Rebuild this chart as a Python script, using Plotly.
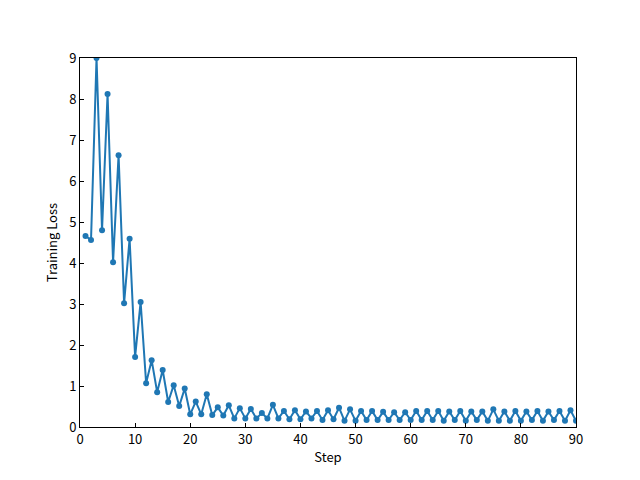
import plotly.graph_objects as go

steps = list(range(1, 91))
loss = [4.66, 4.56, 9.0, 4.80, 8.12, 4.02, 6.63, 3.02, 4.59, 1.71,
        3.05, 1.07, 1.63, 0.85, 1.39, 0.61, 1.02, 0.51, 0.94, 0.31,
        0.62, 0.31, 0.80, 0.29, 0.48, 0.28, 0.53, 0.21, 0.46, 0.21,
        0.44, 0.21, 0.34, 0.21, 0.54, 0.21, 0.39, 0.19, 0.41, 0.19,
        0.38, 0.21, 0.39, 0.17, 0.41, 0.19, 0.47, 0.15, 0.43, 0.15,
        0.39, 0.17, 0.39, 0.17, 0.37, 0.17, 0.36, 0.17, 0.36, 0.17,
        0.39, 0.17, 0.39, 0.17, 0.39, 0.15, 0.38, 0.17, 0.39, 0.15,
        0.38, 0.17, 0.38, 0.15, 0.43, 0.15, 0.38, 0.15, 0.39, 0.15,
        0.38, 0.17, 0.39, 0.15, 0.38, 0.17, 0.39, 0.15, 0.41, 0.15]

x_ticks = [0, 10, 20, 30, 40, 50, 60, 70, 80, 90]
y_ticks = list(range(0, 10))

font_family = "Noto Sans CJK JP, DejaVu Sans, sans-serif"

fig = go.Figure()
fig.add_trace(go.Scatter(
    x=steps, y=loss, mode="lines+markers",
    line=dict(color="#1f77b4", width=2),
    marker=dict(color="#1f77b4", size=6),
    showlegend=False,
))

axis_common = dict(
    showgrid=False, zeroline=False, showline=True, linecolor="black",
    linewidth=1, mirror=True, ticks="inside", ticklen=4, tickwidth=1,
    tickcolor="black", tickfont=dict(size=13, color="black", family=font_family),
)

fig.update_layout(
    width=640, height=480,
    margin=dict(l=72, r=72, t=50, b=61),
    paper_bgcolor="white", plot_bgcolor="white",
    font=dict(family=font_family, color="black"),
    xaxis=dict(range=[0, 90], tickvals=x_ticks,
               title=dict(text="Step", font=dict(size=13), standoff=6), **axis_common),
    yaxis=dict(range=[0, 9], tickvals=y_ticks,
               title=dict(text="Training Loss", font=dict(size=13), standoff=8), **axis_common),
)

fig.write_html("out.html")
